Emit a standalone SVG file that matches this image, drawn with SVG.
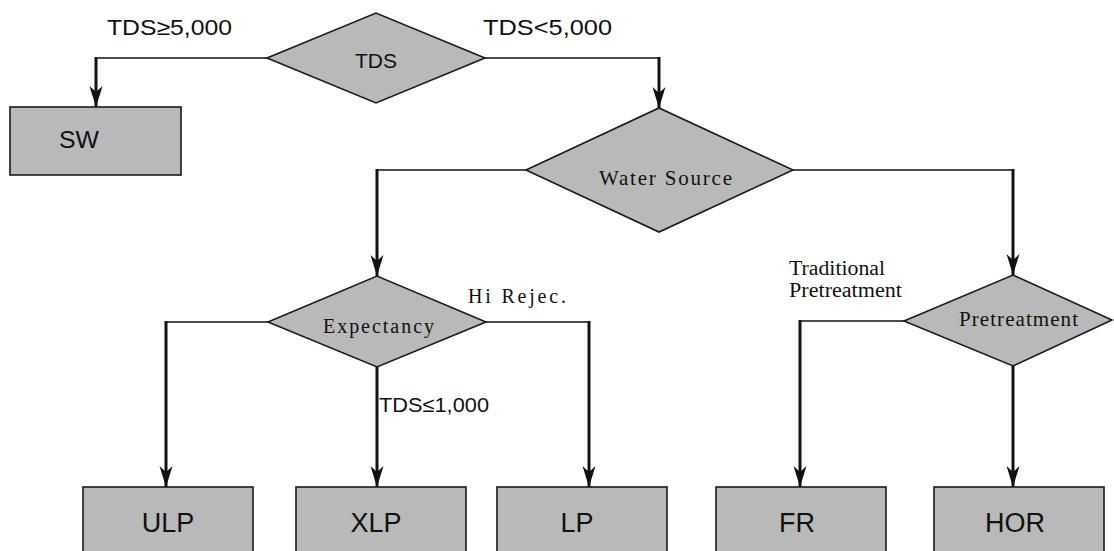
<svg xmlns="http://www.w3.org/2000/svg" width="1114" height="551" viewBox="0 0 1114 551">
<style>
.box{fill:#b9b9b9;stroke:#1a1a1a;stroke-width:1.6}
.dia{fill:#b9b9b9;stroke:#1a1a1a;stroke-width:1.6}
.h{fill:none;stroke:#111;stroke-width:1.6}
.v{fill:none;stroke:#111;stroke-width:3}
.sans{font-family:"Liberation Sans",Arial,sans-serif;fill:#111}
.serif{font-family:"Liberation Serif","Times New Roman",serif;fill:#111}
.lbl{font-size:27px;text-anchor:middle}
</style>
<defs>
<marker id="arr" markerUnits="userSpaceOnUse" markerWidth="24" markerHeight="16" viewBox="-22 -8 24 16" refX="0" refY="0" orient="auto">
<path d="M0,0 L-21,-6.5 L-15,0 L-21,6.5 Z" fill="#111"/>
</marker>
</defs>
<rect width="1114" height="551" fill="#fff"/>
<g id="connectors">
<path class="h" d="M267,58 H96"/><path class="v" d="M96,57 V107" marker-end="url(#arr)"/>
<path class="h" d="M485,58 H659"/><path class="v" d="M659,57 V108" marker-end="url(#arr)"/>
<path class="h" d="M526,170 H377"/><path class="v" d="M377,169 V276" marker-end="url(#arr)"/>
<path class="h" d="M793,170 H1013"/><path class="v" d="M1013,169 V275" marker-end="url(#arr)"/>
<path class="h" d="M268,322 H166"/><path class="v" d="M166,321 V487" marker-end="url(#arr)"/>
<path class="v" d="M377,367 V487" marker-end="url(#arr)"/>
<path class="h" d="M486,322 H589"/><path class="v" d="M589,321 V487" marker-end="url(#arr)"/>
<path class="h" d="M904,321 H800"/><path class="v" d="M800,320 V487" marker-end="url(#arr)"/>
<path class="v" d="M1013,366 V487" marker-end="url(#arr)"/>
<text class="sans" x="107" y="35" font-size="22" textLength="125" lengthAdjust="spacingAndGlyphs">TDS≥5,000</text>
<text class="sans" x="483" y="35" font-size="22" textLength="129" lengthAdjust="spacingAndGlyphs">TDS&lt;5,000</text>
<text class="serif" x="468" y="303" font-size="20" textLength="98" lengthAdjust="spacing">Hi Rejec.</text>
<text class="sans" x="379" y="412" font-size="21" textLength="110" lengthAdjust="spacingAndGlyphs">TDS≤1,000</text>
<text class="serif" x="789" y="275" font-size="20" textLength="96" lengthAdjust="spacingAndGlyphs">Traditional</text>
<text class="serif" x="789" y="297" font-size="20" textLength="113" lengthAdjust="spacingAndGlyphs">Pretreatment</text>
</g>
<g id="tds">
<polygon class="dia" points="267,58 376,13 485,58 376,103"/>
<text class="sans" x="355" y="68" font-size="21" textLength="42" lengthAdjust="spacingAndGlyphs">TDS</text>
</g>
<g id="sw">
<rect class="box" x="10" y="107" width="171" height="68"/>
<text class="sans" x="59" y="148" font-size="24" textLength="40" lengthAdjust="spacingAndGlyphs">SW</text>
</g>
<g id="water-source">
<polygon class="dia" points="526,170 659,108 793,170 659,232"/>
<text class="serif" x="599" y="185" font-size="21" textLength="133" lengthAdjust="spacing">Water Source</text>
</g>
<g id="expectancy">
<polygon class="dia" points="268,322 377,276 486,322 377,367"/>
<text class="serif" x="323" y="333" font-size="20" textLength="111" lengthAdjust="spacing">Expectancy</text>
</g>
<g id="pretreatment">
<polygon class="dia" points="904,321 1013,275 1112,320 1013,366"/>
<text class="serif" x="959" y="326" font-size="21" textLength="119" lengthAdjust="spacing">Pretreatment</text>
</g>
<g id="ulp">
<rect class="box" x="83" y="487" width="170" height="70"/>
<text class="sans lbl" x="168" y="532">ULP</text>
</g>
<g id="xlp">
<rect class="box" x="296" y="487" width="170" height="70"/>
<text class="sans lbl" x="376" y="532">XLP</text>
</g>
<g id="lp">
<rect class="box" x="497" y="487" width="170" height="70"/>
<text class="sans lbl" x="577" y="532">LP</text>
</g>
<g id="fr">
<rect class="box" x="716" y="487" width="170" height="70"/>
<text class="sans lbl" x="797" y="532">FR</text>
</g>
<g id="hor">
<rect class="box" x="934" y="487" width="170" height="70"/>
<text class="sans lbl" x="1015" y="532">HOR</text>
</g>
</svg>
